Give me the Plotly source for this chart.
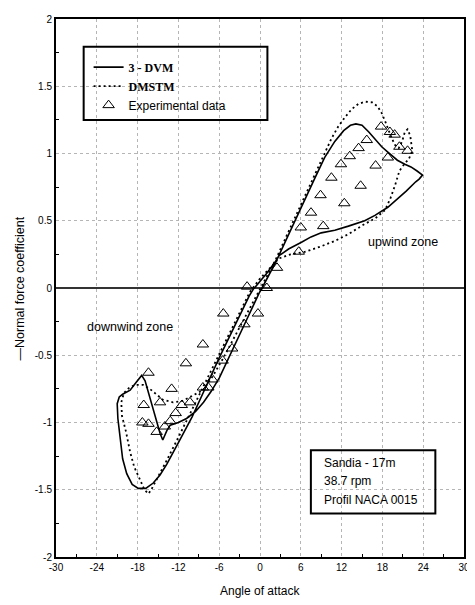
import plotly.graph_objects as go

# ---- data ----
# 3-DVM (solid) closed loop: angle of attack (deg), normal force coefficient
dvm_aoa = [-14.3, -13.7, -13.2, -12.0, -10.8, -9.5, -8.3, -7.2, -6.0, -4.0, -2.0, -0.15, 0.3,
           2.3, 4.2, 6.1, 8.0, 9.5, 11.0, 12.3, 13.3, 14.1, 15.0, 16.0, 16.9, 17.9, 18.8, 20.2,
           21.3, 22.2, 23.1, 23.9, 23.4, 22.9, 21.5, 20.2, 18.8, 16.9, 15.4, 13.0, 11.0, 9.0,
           7.5, 6.1, 4.2, 2.8, 2.3, 1.0, -0.4, -1.0, -1.6, -4.0, -6.0, -8.0, -10.0, -12.0,
           -13.7, -14.7, -15.7, -16.8, -17.9, -18.8, -19.6, -20.2, -20.6, -20.9, -21.0, -20.7,
           -20.2, -19.1, -18.2, -17.4, -16.9, -16.4, -15.8, -15.2, -14.7, -14.3]
dvm_cn = [-1.13, -1.06, -1.02, -1.00, -0.97, -0.92, -0.85, -0.77, -0.67, -0.45, -0.24, -0.04, 0.0,
          0.19, 0.40, 0.61, 0.81, 0.97, 1.09, 1.17, 1.21, 1.22, 1.21, 1.16, 1.11, 1.05, 1.01, 0.95,
          0.92, 0.90, 0.87, 0.84, 0.81, 0.79, 0.72, 0.66, 0.60, 0.54, 0.50, 0.46, 0.43, 0.41,
          0.38, 0.34, 0.29, 0.24, 0.20, 0.11, 0.03, -0.01, -0.06, -0.31, -0.52, -0.74, -0.96, -1.15,
          -1.31, -1.39, -1.45, -1.49, -1.49, -1.46, -1.38, -1.27, -1.12, -0.97, -0.86, -0.81,
          -0.79, -0.76, -0.70, -0.65, -0.69, -0.78, -0.90, -1.00, -1.08, -1.13]

# DMSTM (dotted) closed loop
dms_aoa = [-8.4, -7.0, -5.5, -3.5, -1.5, 0.3, 2.3, 4.2, 6.1, 8.0, 9.5, 10.5, 11.5, 12.5, 13.5,
           14.5, 15.5, 16.5, 17.3, 17.9, 18.4, 18.9, 19.4, 19.9, 20.4, 20.9, 21.3, 21.7, 22.1,
           22.4, 21.9, 21.2, 20.5, 19.9, 19.2, 18.4, 17.0, 15.2, 13.0, 11.0, 9.0, 6.7, 4.5, 2.8,
           1.5, 0.0, -1.5, -4.0, -6.0, -8.0, -10.0, -12.0, -13.7, -15.0, -16.0, -16.4, -17.0,
           -17.6, -18.5, -19.1, -19.7, -20.3, -20.4, -20.0, -19.2, -18.3, -17.2, -16.2, -15.1,
           -14.3, -12.8, -11.4, -9.9, -8.4]
dms_cn = [-0.76, -0.66, -0.53, -0.34, -0.14, 0.03, 0.21, 0.42, 0.63, 0.84, 1.00, 1.11, 1.20, 1.27,
          1.33, 1.37, 1.385, 1.38, 1.35, 1.30, 1.24, 1.17, 1.11, 1.06, 1.04, 1.09, 1.16, 1.18, 1.13,
          1.02, 0.96, 0.92, 0.87, 0.77, 0.67, 0.58, 0.52, 0.47, 0.40, 0.35, 0.31, 0.27, 0.25, 0.22,
          0.15, 0.07, -0.03, -0.29, -0.49, -0.70, -0.91, -1.11, -1.28, -1.41, -1.50, -1.53, -1.50,
          -1.43, -1.33, -1.22, -1.07, -0.95, -0.85, -0.78, -0.74, -0.72, -0.72, -0.75, -0.80,
          -0.83, -0.85, -0.84, -0.80, -0.76]

# Experimental data (triangles)
exp_aoa = [17.8, 19.1, 19.8, 15.7, 14.5, 13.2, 11.9, 10.5, 17.0, 18.8, 20.5, 21.7, 14.8, 12.4,
           8.9, 9.3, 7.5, 6.0, 5.7, 2.5, 1.0, -1.9,
           -0.3, -2.3, -4.1, -5.4, -5.5, -7.0, -7.6, -8.4, -10.9, -16.4, -13.0, -17.1, -14.7,
           -17.3, -16.4, -15.2, -14.0, -13.2, -12.4, -11.5, -10.3, -8.4]
exp_cn = [1.20, 1.16, 1.14, 1.10, 1.04, 0.98, 0.92, 0.82, 0.91, 0.97, 1.05, 1.02, 0.76, 0.63,
          0.69, 0.46, 0.56, 0.45, 0.27, 0.15, 0.00, 0.01,
          -0.19, -0.27, -0.45, -0.19, -0.54, -0.68, -0.74, -0.42, -0.56, -0.63, -0.75, -0.87,
          -0.85, -1.00, -1.01, -1.07, -1.03, -0.99, -0.93, -0.87, -0.85, -0.74]

x_ticks = [-30, -24, -18, -12, -6, 0, 6, 12, 18, 24, 30]
x_ticktext = ["-30", "-24", "-18", "-12", "-6", "0", "6", "12", "18", "24", "30"]
y_ticks = [-2, -1.5, -1, -0.5, 0, 0.5, 1, 1.5, 2]
y_ticktext = ["-2", "-1.5", "-1", "-0.5", "0", "0.5", "1", "1.5", "2"]

SANS = "Arial, Liberation Sans, sans-serif"

fig = go.Figure()
fig.add_trace(go.Scatter(
    x=dvm_aoa, y=dvm_cn, mode="lines",
    name="<span style='font-family:Liberation Serif, Times New Roman, serif'><b>3 - DVM</b></span>",
    line=dict(color="black", width=1.6)))
fig.add_trace(go.Scatter(
    x=dms_aoa, y=dms_cn, mode="lines",
    name="<span style='font-family:Liberation Serif, Times New Roman, serif'><b>DMSTM</b></span>",
    line=dict(color="black", width=1.8, dash="2px,3px")))
fig.add_trace(go.Scatter(
    x=exp_aoa, y=exp_cn, mode="markers", name="Experimental data",
    marker=dict(symbol="triangle-up-open", size=10, color="black", line=dict(width=1))))

# The page body has an 8px margin; compensate so the plot lands where the reference has it.
OFF = 8
W, H = 475 - OFF, 605 - OFF
# plot area in reference pixels: x 56..469, y 13..557
PX0, PX1, PY0, PY1 = 56, 469, 13, 557
L, T = PX0 - OFF, PY0 - OFF
R = W - (PX1 - OFF)
B = H - (PY1 - OFF)
pw, ph = PX1 - PX0, PY1 - PY0


def px2paper(px, py):
    """reference-pixel position -> paper coordinates"""
    return (px - PX0) / pw, (PY1 - py) / ph


# legend box
lx0, ly0 = px2paper(84, 115)
lx1, ly1 = px2paper(270, 41)
# info box
ix0, iy0 = px2paper(314, 513)
ix1, iy1 = px2paper(440, 449)

shapes = [
    dict(type="rect", xref="paper", yref="paper", x0=lx0, y0=ly0, x1=lx1, y1=ly1,
         line=dict(color="black", width=2), fillcolor="rgba(0,0,0,0)"),
    dict(type="rect", xref="paper", yref="paper", x0=ix0, y0=iy0, x1=ix1, y1=iy1,
         line=dict(color="black", width=2), fillcolor="rgba(0,0,0,0)"),
]

annotations = []
tx, _ = px2paper(325, 0)
for line_txt, py in [("Sandia - 17m", 462), ("38.7 rpm", 480), ("Profil NACA 0015", 499)]:
    _, ty = px2paper(0, py)
    annotations.append(dict(text=line_txt, xref="paper", yref="paper", x=tx, y=ty,
                            xanchor="left", yanchor="middle", showarrow=False,
                            font=dict(family=SANS, size=12, color="black")))
annotations.append(dict(text="upwind zone", xref="x", yref="y", x=21.1, y=0.345,
                        showarrow=False, font=dict(family=SANS, size=12.5, color="black")))
annotations.append(dict(text="downwind zone", xref="x", yref="y", x=-19.1, y=-0.287,
                        showarrow=False, font=dict(family=SANS, size=12.5, color="black")))
# axis titles
annotations.append(dict(text="Angle of attack", xref="paper", yref="paper", x=0.5,
                        y=px2paper(0, 591)[1], xanchor="center", yanchor="middle",
                        showarrow=False, font=dict(family=SANS, size=12, color="black")))
annotations.append(dict(text="\u2014Normal force coefficient", xref="paper", yref="paper",
                        x=px2paper(20, 0)[0], y=0.5, xanchor="center", yanchor="middle",
                        textangle=-90, showarrow=False,
                        font=dict(family=SANS, size=12.5, color="black")))

lgx, lgy = px2paper(89, 47)

fig.update_layout(
    width=W, height=H,
    margin=dict(l=L, r=R, t=T, b=B, pad=0),
    paper_bgcolor="white", plot_bgcolor="white",
    showlegend=True,
    legend=dict(x=lgx, y=lgy, xanchor="left", yanchor="top",
                bgcolor="rgba(0,0,0,0)", borderwidth=0,
                font=dict(family=SANS, size=12, color="black"),
                itemwidth=30, tracegroupgap=0),
    shapes=shapes,
    annotations=annotations,
    font=dict(family=SANS, color="black"),
)
fig.update_xaxes(
    range=[-30, 30], tickmode="array", tickvals=x_ticks, ticktext=x_ticktext,
    showgrid=True, gridcolor="#b5b5b5", griddash="dot", gridwidth=1,
    zeroline=False, showline=True, linecolor="black", linewidth=2, mirror=True,
    ticks="", tickfont=dict(family=SANS, size=10, color="black"),
    minor=dict(tickmode="array", tickvals=[-27, -21, -15, -9, -3, 3, 9, 15, 21, 27],
               ticks="inside", ticklen=3, tickcolor="black", showgrid=False),
)
fig.update_yaxes(
    range=[-2, 2], tickmode="array", tickvals=y_ticks, ticktext=y_ticktext,
    showgrid=True, gridcolor="#b5b5b5", griddash="dot", gridwidth=1,
    zeroline=True, zerolinecolor="#333333", zerolinewidth=1.5,
    showline=True, linecolor="black", linewidth=2, mirror=True,
    ticks="", tickfont=dict(family=SANS, size=10, color="black"),
    minor=dict(tickmode="array", tickvals=[-1.75, -1.25, -0.75, -0.25, 0.25, 0.75, 1.25, 1.75],
               ticks="inside", ticklen=3, tickcolor="black", showgrid=False),
)

fig.write_html("out.html")
